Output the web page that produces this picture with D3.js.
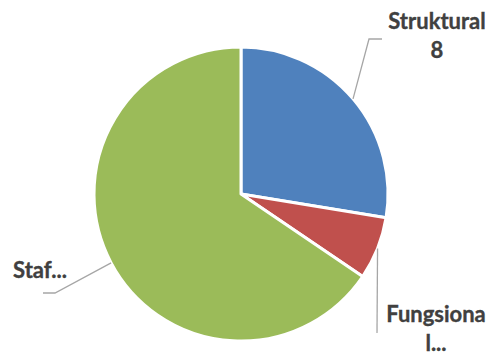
<!DOCTYPE html>
<html>
<head>
<meta charset="utf-8">
<script src="https://cdn.jsdelivr.net/npm/d3@7"></script>
<style>
html,body{margin:0;padding:0;background:#fff;}
svg{display:block;}
text{font-family:Lato,"Open Sans",sans-serif;font-weight:bold;fill:#404040;stroke:#404040;stroke-width:0.35px;}
</style>
</head>
<body>
<script>
const categories = ["Struktural", "Fungsional", "Staf"];
const values = [8, 2, 19];
const colors = ["#4F81BD", "#C0504D", "#9BBB59"];
// label text lines as shown (truncated in original)
const labelLines = [["Struktural", "8"], ["Fungsiona", "l..."], ["Staf..."]];

const W = 489, H = 354;
const cx = 241, cy = 194, R = 147;

const svg = d3.select("body").append("svg").attr("width", W).attr("height", H);
const g = svg.append("g").attr("transform", `translate(${cx},${cy})`);

const data = categories.map((c, i) => ({cat: c, value: values[i], color: colors[i], lines: labelLines[i]}));
const pie = d3.pie().sort(null).value(d => d.value).startAngle(0).endAngle(2 * Math.PI);
const arc = d3.arc().innerRadius(0).outerRadius(R);
const arcs = pie(data);

g.selectAll("path.slice").data(arcs).join("path")
  .attr("class", "slice")
  .attr("d", arc)
  .attr("fill", d => d.data.color)
  .attr("stroke", "#fff")
  .attr("stroke-width", 3)
  .attr("stroke-linejoin", "round");

// leader line layout (elbow & end offsets relative to chart centre)
const leader = [
  {elbow: [128, -155], end: [141, -155], text: [196, -165], lh: 29, anchor: "middle"},
  {elbow: [136, 139], end: [136, 139], text: [195, 128], lh: 29, anchor: "middle"},
  {elbow: [-186, 99], end: [-198, 99], text: [-201, 84], lh: 29, anchor: "middle"}
];

arcs.forEach((a, i) => {
  const mid = (a.startAngle + a.endAngle) / 2;
  const sx = R * Math.sin(mid), sy = -R * Math.cos(mid);
  const L = leader[i];
  g.append("polyline")
    .attr("points", [[sx, sy], L.elbow, L.end].map(p => p.join(",")).join(" "))
    .attr("fill", "none")
    .attr("stroke", "#A6A6A6")
    .attr("stroke-width", 1.3);
  const t = g.append("text")
    .attr("text-anchor", L.anchor)
    .attr("font-size", 22);
  a.data.lines.forEach((ln, j) => {
    t.append("tspan").attr("x", L.text[0]).attr("y", L.text[1] + j * L.lh).text(ln);
  });
});
</script>
</body>
</html>
